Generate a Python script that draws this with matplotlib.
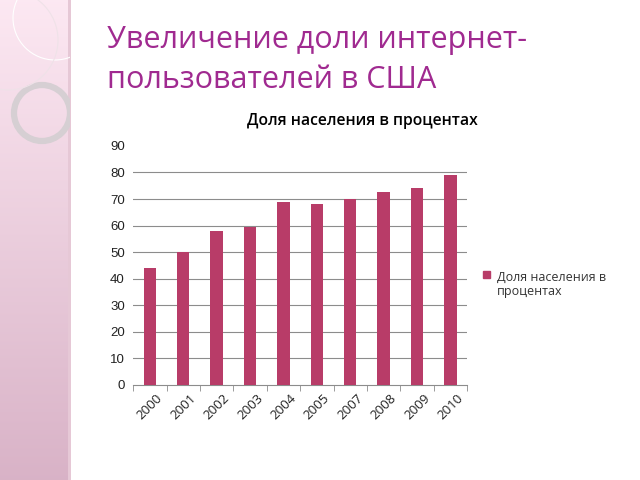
import numpy as np
import matplotlib.pyplot as plt
from matplotlib.patches import Circle, Rectangle

years = ['2000', '2001', '2002', '2003', '2004', '2005', '2007', '2008', '2009', '2010']
share = [44.0, 49.9, 58.1, 59.3, 68.7, 68.1, 70.0, 72.5, 74.0, 79.1]
series_name = 'Доля населения в\nпроцентах'
chart_title = 'Доля населения в процентах'
slide_title = ['Увеличение доли интернет-', 'пользователей в США']

BAR = '#B83C68'
FONT = ['Open Sans', 'DejaVu Sans']

fig = plt.figure(figsize=(6.4, 4.8), dpi=100)
fig.patch.set_facecolor('white')

# pink strip on the left with the ring decoration
deco = fig.add_axes([0, 0, 1, 1])
deco.set_xlim(0, 640)
deco.set_ylim(480, 0)
deco.axis('off')
grad = np.linspace(0, 1, 256).reshape(-1, 1)
top = np.array([0.99, 0.91, 0.95])
bot = np.array([0.85, 0.70, 0.78])
img = top + grad[..., None] * (bot - top)
deco.imshow(img, extent=(0, 70, 480, 0), aspect='auto', zorder=0)
deco.add_patch(Rectangle((68, 0), 3, 480, color='#e6c8d6', zorder=1, lw=0))
clip = Rectangle((0, 0), 70, 480, transform=deco.transData)
for c in [Circle((42, 113), 28, fill=False, ec='#d6cfd3', lw=4.5, zorder=2),
          Circle((55, 18), 42, fill=False, ec='#ffffff', lw=0.8, zorder=2),
          Circle((8, 40), 50, fill=False, ec='#efe2e8', lw=0.8, zorder=2)]:
    deco.add_patch(c)
    c.set_clip_path(clip)

for i, line in enumerate(slide_title):
    deco.text(107, 40 + 40 * i, line, fontsize=22, color='#A02A90', family=FONT,
              va='center', ha='left')

ax = fig.add_axes([0.208, 0.198, 0.522, 0.498])
x = np.arange(len(years))
ax.bar(x, share, width=0.37, color=BAR, zorder=3)
ax.set_xlim(-0.5, len(years) - 0.5)
ax.set_ylim(0, 90)
ax.set_yticks(range(0, 100, 10))
for v in range(10, 90, 10):
    ax.axhline(v, color='#8c8c8c', lw=0.8, zorder=1)
for s in ['top', 'right', 'left']:
    ax.spines[s].set_visible(False)
ax.spines['bottom'].set_color('#8c8c8c')
ax.tick_params(axis='y', length=0, labelsize=9.5, colors='#222222', pad=6)
ax.set_xticks(x)
ax.set_xticklabels(years, rotation=45, fontsize=9.5, family=FONT, color='#222222')
ax.tick_params(axis='x', length=0, pad=5)
ax.set_xticks(np.arange(-0.5, len(years), 1), minor=True)
ax.tick_params(axis='x', which='minor', length=4, color='#8c8c8c')
for lbl in ax.get_yticklabels():
    lbl.set_family(['Liberation Sans', 'DejaVu Sans'])

fig.text(0.566, 0.748, chart_title, fontsize=11.3, fontweight='semibold',
         family=FONT, ha='center', va='center')

deco.add_patch(Rectangle((483, 271), 7, 7, color=BAR, zorder=3))
deco.text(497, 284, series_name, fontsize=9, family=FONT, va='center',
          ha='left', color='#333333', linespacing=1.1)

fig.savefig('out.png', dpi=100)
